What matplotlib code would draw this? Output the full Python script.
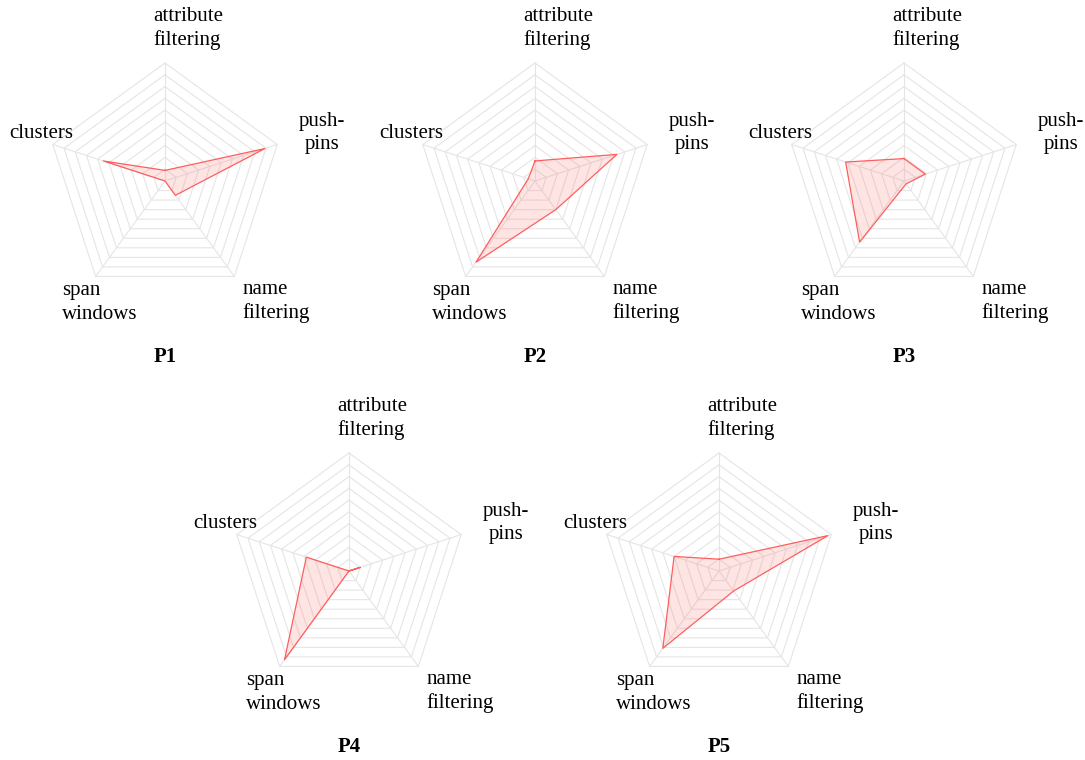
import numpy as np
import matplotlib
matplotlib.use("Agg")
import matplotlib.pyplot as plt

plt.rcParams["font.family"] = ["Liberation Serif", "DejaVu Serif"]

AXIS_LABELS = ["attribute\nfiltering", "push-\npins", "name\nfiltering", "span\nwindows", "clusters"]
PARTICIPANTS = ["P1", "P2", "P3", "P4", "P5"]

P1 = [0.09, 0.89, 0.15, 0.00, 0.55]
P2 = [0.17, 0.73, 0.30, 0.85, 0.06]
P3 = [0.19, 0.19, 0.03, 0.64, 0.52]
P4 = [0.00, 0.10, 0.00, 0.93, 0.38]
P5 = [0.10, 0.97, 0.21, 0.81, 0.40]
SCORES = [P1, P2, P3, P4, P5]

N_RINGS = 10
W, H = 1085, 760
R_PX = 118  # pentagon radius in pixels
CENTERS = [(165, 181), (535, 181), (904, 181), (349, 571), (719, 571)]

# label placement per axis: (dx, dy) in radius units, horizontal alignment
LABEL_POS = [
    ((-0.10, 1.29), "left"),
    ((1.33, 0.41), "center"),
    ((0.66, -1.02), "left"),
    ((-0.87, -1.03), "left"),
    ((-1.05, 0.40), "center"),
]

angles = np.pi / 2 - np.arange(5) * 2 * np.pi / 5


def to_xy(vals):
    vals = np.asarray(vals, dtype=float)
    x = vals * np.cos(angles)
    y = vals * np.sin(angles)
    return np.append(x, x[0]), np.append(y, y[0])


def radar(ax, values, title):
    ring_x, ring_y = to_xy(np.ones(5))
    for k in range(1, N_RINGS + 1):
        ax.plot(ring_x * k / N_RINGS, ring_y * k / N_RINGS, color="#e5e5e5", lw=0.8, zorder=1)
    for a in angles:
        ax.plot([0, np.cos(a)], [0, np.sin(a)], color="#e5e5e5", lw=0.8, zorder=1)

    x, y = to_xy(values)
    ax.fill(x, y, color="#ff6b6b", alpha=0.18, lw=0, zorder=2)
    ax.plot(x, y, color="#ff5e5e", lw=0.9, zorder=3)

    for label, ((dx, dy), ha) in zip(AXIS_LABELS, LABEL_POS):
        ax.text(dx, dy, label, ha=ha, va="center", fontsize=15, linespacing=1.3)
    ax.text(0, -1.49, title, ha="center", va="center", fontsize=15, fontweight="bold")

    lim = 150 / R_PX
    ax.set_xlim(-lim, lim)
    ax.set_ylim(-lim, lim)
    ax.axis("off")


fig = plt.figure(figsize=(W / 100, H / 100), dpi=100)
for (cx, cy), vals, name in zip(CENTERS, SCORES, PARTICIPANTS):
    ax = fig.add_axes([(cx - 150) / W, 1 - (cy + 150) / H, 300 / W, 300 / H])
    radar(ax, vals, name)

fig.savefig("out.png", dpi=100)
